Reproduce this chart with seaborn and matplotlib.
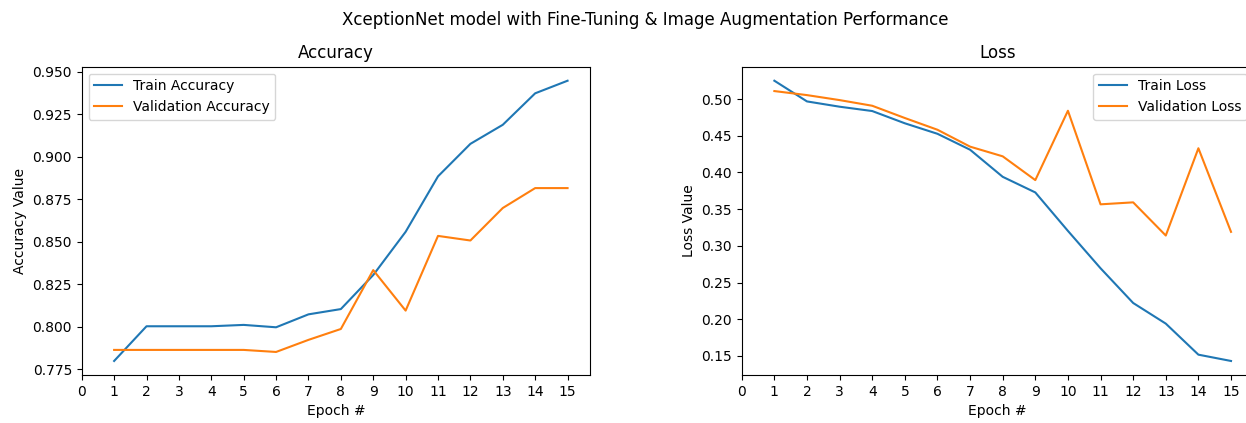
import numpy as np
import matplotlib
matplotlib.use("Agg")
import matplotlib.pyplot as plt
import seaborn as sns

# valores
epochs = list(range(1, 16))
train_acc = [0.780, 0.8004, 0.8004, 0.8004, 0.8012, 0.7998, 0.8074, 0.8105,
             0.8305, 0.8559, 0.8885, 0.9076, 0.9188, 0.9373, 0.9447]
val_acc = [0.7865, 0.7865, 0.7865, 0.7865, 0.7865, 0.7853, 0.7924, 0.7988,
           0.8334, 0.8096, 0.8535, 0.8508, 0.8699, 0.8816, 0.8816]
train_loss = [0.525, 0.4968, 0.4896, 0.4837, 0.467, 0.4527, 0.431, 0.3941,
              0.3728, 0.3204, 0.2695, 0.2222, 0.1941, 0.1518, 0.1432]
val_loss = [0.5109, 0.5054, 0.4986, 0.4909, 0.4742, 0.4582, 0.4352, 0.4220,
            0.3896, 0.4841, 0.3566, 0.3593, 0.3141, 0.4330, 0.3191]

fig = plt.figure(figsize=(12.46, 4.23), dpi=100)
# el panel derecho queda un poco cortado como en la captura original
ax1 = fig.add_axes([0.0656, 0.1135, 0.4081, 0.7288])
ax2 = fig.add_axes([0.5953, 0.1135, 0.4110, 0.7288])
fig.suptitle('XceptionNet model with Fine-Tuning & Image Augmentation Performance',
             fontsize=12, x=0.518, y=0.975)

# Accuracy
sns.lineplot(x=epochs, y=train_acc, label='Train Accuracy', ax=ax1)
sns.lineplot(x=epochs, y=val_acc, label='Validation Accuracy', ax=ax1)
ax1.set_xticks(np.arange(0, 16, 1))
ax1.set_ylabel('Accuracy Value')
ax1.set_xlabel('Epoch #')
ax1.set_title('Accuracy')
ax1.legend(loc='upper left')

# Loss
sns.lineplot(x=epochs, y=train_loss, label='Train Loss', ax=ax2)
sns.lineplot(x=epochs, y=val_loss, label='Validation Loss', ax=ax2)
ax2.set_xticks(np.arange(0, 16, 1))
ax2.set_ylabel('Loss Value')
ax2.set_xlabel('Epoch #')
ax2.set_title('Loss')
ax2.legend(loc='upper right')

fig.savefig('out.png', dpi=100)
